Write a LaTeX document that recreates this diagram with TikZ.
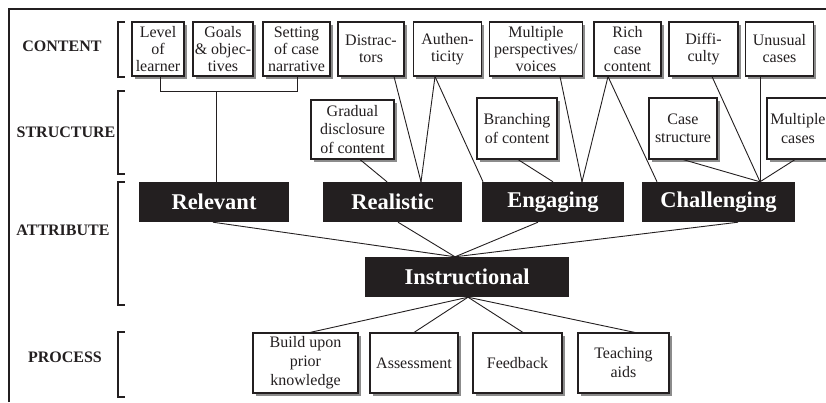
\documentclass[tikz,border=0pt]{standalone}
\usepackage{fontspec}
\setmainfont{Liberation Serif}
\usetikzlibrary{shadows}
\definecolor{ink}{HTML}{231F20}
\definecolor{shade}{HTML}{8C8C8C}
\tikzset{
  boxbase/.style={draw=ink, line width=1.1pt, fill=white, text=ink, align=center, inner sep=0pt,
    drop shadow={shadow xshift=2.8pt, shadow yshift=-2.8pt, fill=shade, opacity=1}},
  cbox/.style={boxbase, font=\fontsize{16}{17}\selectfont, minimum height=54pt},
  sbox/.style={boxbase, font=\fontsize{16}{18.5}\selectfont, minimum height=61pt},
  pbox/.style={boxbase, font=\fontsize{16}{19}\selectfont, minimum height=60pt},
  attr/.style={fill=ink, text=white, inner sep=0pt, minimum height=40pt,
    font=\fontsize{22.5}{24}\selectfont\bfseries},
  lbl/.style={text=ink, inner sep=0pt, font=\fontsize{16}{18}\selectfont\bfseries},
  conn/.style={draw=ink, line width=0.9pt},
  brk/.style={draw=ink, line width=2.6pt},
}
\begin{document}
\begin{tikzpicture}[x=1pt, y=-1pt]
\useasboundingbox (0,0) rectangle (826,402);
% frame
\draw[ink, line width=2.6pt] (9,402) -- (9,9) -- (826,9);
% row labels
\node[lbl] (lcontent) at (62,46) {CONTENT};
\node[lbl] (lstructure) at (66,132) {STRUCTURE};
\node[lbl] (lattribute) at (63,230) {ATTRIBUTE};
\node[lbl] (lprocess) at (65,357) {PROCESS};
% brackets
\draw[brk] (124.5,22) -- (118,22) -- (118,77) -- (124.5,77);
\draw[brk] (124.5,91) -- (118,91) -- (118,174) -- (124.5,174);
\draw[brk] (124.5,182) -- (118,182) -- (118,305) -- (124.5,305);
\draw[brk] (124.5,332) -- (118,332) -- (118,397) -- (124.5,397);
% content boxes
\node[cbox, minimum width=52pt] (lvl) at (158,49) {Level\\of\\learner};
\node[cbox, minimum width=60pt] (goals) at (223,49) {Goals\\\& objec-\\tives};
\node[cbox, minimum width=67pt] (setting) at (296.5,49) {Setting\\of case\\narrative};
\node[cbox, minimum width=66pt] (distr) at (371,49) {Distrac-\\tors};
\node[cbox, minimum width=68pt] (auth) at (447.5,49) {Authen-\\ticity};
\node[cbox, minimum width=93pt] (multi) at (536,49) {Multiple\\perspectives/\\voices};
\node[cbox, minimum width=67pt] (rich) at (627.5,49) {Rich\\case\\content};
\node[cbox, minimum width=69pt] (diff) at (703.5,49) {Diffi-\\culty};
\node[cbox, minimum width=68pt] (unus) at (779.5,49) {Unusual\\cases};
% structure boxes
\node[sbox, minimum width=83pt, minimum height=59pt] (gradual) at (352.5,129.5) {Gradual\\disclosure\\of content};
\node[sbox, minimum width=80pt] (branch) at (517,128.5) {Branching\\of content};
\node[sbox, minimum width=68pt] (casestr) at (683,128.5) {Case\\structure};
\node[sbox, minimum width=62pt] (multcases) at (798,128.5) {Multiple\\cases};
% attributes
\node[attr, minimum width=150pt] (relevant) at (214,202) {Relevant};
\node[attr, minimum width=139pt] (realistic) at (392.5,202) {Realistic};
\node[attr, minimum width=142pt] (engaging) at (553,202) {Engaging};
\node[attr, minimum width=153pt] (challenging) at (718.5,202) {Challenging};
\node[attr, minimum width=204pt] (instr) at (467,277) {Instructional};
% process boxes
\node[pbox, minimum width=105pt] (build) at (305.5,363) {Build upon\\prior\\knowledge};
\node[pbox, minimum width=88pt] (assess) at (414,363) {Assessment};
\node[pbox, minimum width=89pt] (feedback) at (517.5,363) {Feedback};
\node[pbox, minimum width=91pt] (teaching) at (623.5,363) {Teaching\\aids};
% relevant group
\coordinate (jl) at ([yshift=-15pt]lvl.south);
\draw[conn] ([xshift=2pt]lvl.south) -- ([xshift=2pt]jl) -| ([xshift=1pt]setting.south);
\draw[conn] ([xshift=2pt]relevant.north) -- ([xshift=2pt]relevant.north |- jl);
% realistic
\draw[conn] ([xshift=23pt]distr.south) -- ([xshift=28.5pt]realistic.north);
\draw[conn] ([xshift=-12.5pt]auth.south) -- ([xshift=28.5pt]realistic.north);
\draw[conn] ([xshift=7.5pt]gradual.south) -- ([xshift=-5.5pt]realistic.north);
% engaging
\draw[conn] ([xshift=-12.5pt]auth.south) -- ([xshift=-70pt]engaging.north);
\draw[conn] ([xshift=24pt]multi.south) -- ([xshift=29pt]engaging.north);
\draw[conn] ([xshift=-19.5pt]rich.south) -- ([xshift=29pt]engaging.north);
\draw[conn] ([xshift=1pt]branch.south) -- (engaging.north);
% challenging
\draw[conn] ([xshift=-19.5pt]rich.south) -- ([xshift=-61.5pt]challenging.north);
\draw[conn] ([xshift=8.5pt]diff.south) -- ([xshift=41.5pt]challenging.north);
\draw[conn] ([xshift=-19.5pt]unus.south) -- ([xshift=41.5pt]challenging.north);
\draw[conn] (casestr.south) -- ([xshift=41.5pt]challenging.north);
\draw[conn] ([xshift=-3pt]multcases.south) -- ([xshift=41.5pt]challenging.north);
% to instructional
\draw[conn] ([xshift=-1pt]relevant.south) -- ([xshift=-12pt]instr.north);
\draw[conn] ([xshift=5.5pt]realistic.south) -- ([xshift=-12pt]instr.north);
\draw[conn] ([xshift=-15pt]engaging.south) -- ([xshift=-12pt]instr.north);
\draw[conn] ([xshift=19.5pt]challenging.south) -- ([xshift=-12pt]instr.north);
% process
\draw[conn] ([xshift=1pt]instr.south) -- ([xshift=4.5pt]build.north);
\draw[conn] ([xshift=1pt]instr.south) -- (assess.north);
\draw[conn] ([xshift=1pt]instr.south) -- ([xshift=5.5pt]feedback.north);
\draw[conn] ([xshift=1pt]instr.south) -- ([xshift=11.5pt]teaching.north);
\end{tikzpicture}
\end{document}
